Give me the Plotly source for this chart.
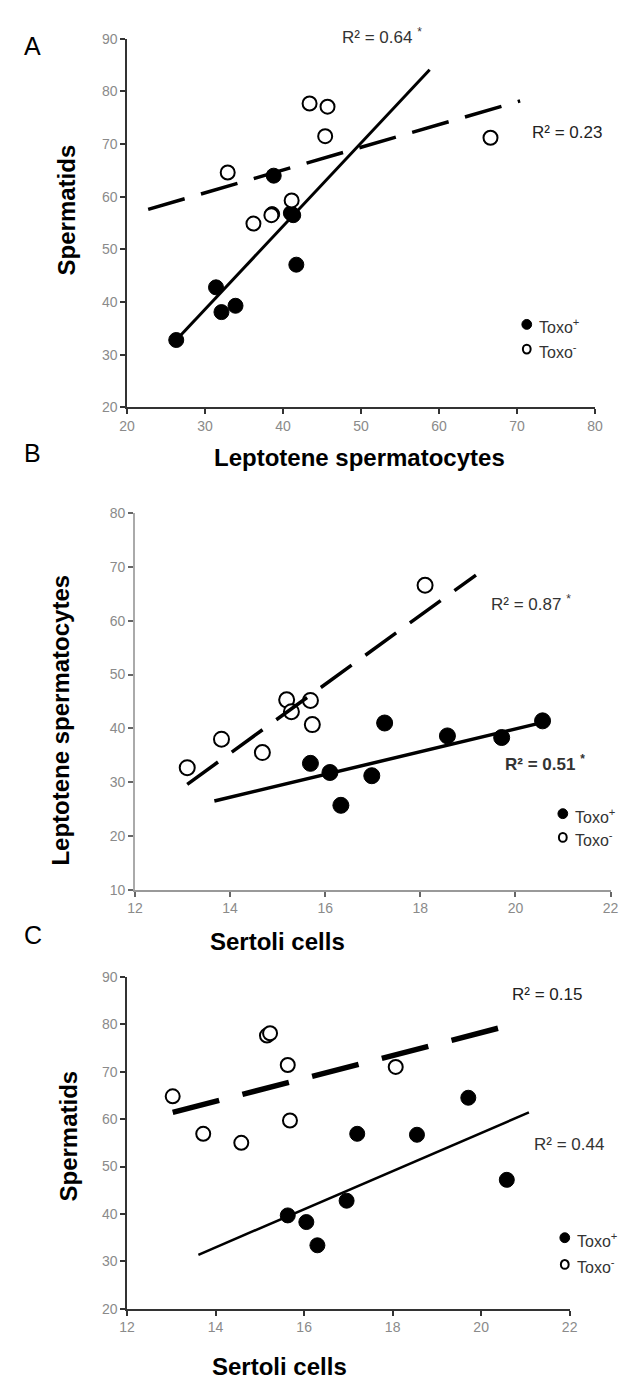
import plotly.graph_objects as go

W, H = 633, 1384

# ---------------- data ----------------
# Panel A: Leptotene spermatocytes (x) vs Spermatids (y)
a_pos_x = [26.3, 31.4, 32.1, 33.9, 38.8, 38.6, 41.0, 41.3, 41.7]
a_pos_y = [32.8, 42.8, 38.1, 39.3, 64.0, 56.7, 56.9, 56.5, 47.1]
a_neg_x = [32.9, 36.2, 38.5, 41.1, 43.4, 45.7, 45.4, 66.6]
a_neg_y = [64.6, 54.9, 56.5, 59.3, 77.7, 77.1, 71.5, 71.2]
a_fit_pos_x = [26.3, 58.8]
a_fit_pos_y = [32.8, 84.1]
a_fit_neg_x = [22.7, 70.4]
a_fit_neg_y = [57.6, 78.2]

# Panel B: Sertoli cells (x) vs Leptotene spermatocytes (y)
b_pos_x = [15.69, 16.10, 16.33, 16.98, 17.25, 18.57, 19.71, 20.57]
b_pos_y = [33.5, 31.8, 25.7, 31.2, 41.0, 38.6, 38.3, 41.4]
b_neg_x = [13.10, 13.82, 14.68, 15.19, 15.29, 15.69, 15.73, 18.10]
b_neg_y = [32.7, 38.0, 35.5, 45.3, 43.1, 45.2, 40.7, 66.6]
b_fit_pos_x = [13.67, 20.71]
b_fit_pos_y = [26.5, 41.4]
b_fit_neg_x = [13.10, 19.17]
b_fit_neg_y = [29.6, 68.5]

# Panel C: Sertoli cells (x) vs Spermatids (y)
c_pos_x = [15.63, 16.05, 16.30, 16.96, 17.20, 18.55, 19.71, 20.58]
c_pos_y = [39.7, 38.3, 33.4, 42.8, 56.9, 56.7, 64.5, 47.2]
c_neg_x = [13.03, 13.72, 14.58, 15.16, 15.23, 15.63, 15.68, 18.07]
c_neg_y = [64.8, 56.9, 55.0, 77.6, 78.1, 71.4, 59.7, 71.0]
c_fit_pos_x = [13.61, 21.08]
c_fit_pos_y = [31.4, 61.4]
c_fit_neg_x = [13.03, 20.61]
c_fit_neg_y = [61.4, 79.7]

a_xticks = [20, 30, 40, 50, 60, 70, 80]
a_yticks = [20, 30, 40, 50, 60, 70, 80, 90]
b_xticks = [12, 14, 16, 18, 20, 22]
b_yticks = [10, 20, 30, 40, 50, 60, 70, 80]
c_xticks = [12, 14, 16, 18, 20, 22]
c_yticks = [20, 30, 40, 50, 60, 70, 80, 90]

r2_labels = ["R² = 0.64 <sup>*</sup>", "R² = 0.23",
             "R² = 0.87 <sup>*</sup>", "<b>R² = 0.51 <sup>*</sup></b>",
             "R² = 0.15", "R² = 0.44"]
legend_labels = ["Toxo<sup>+</sup>", "Toxo<sup>-</sup>"]


def fx(px):
    return px / W


def fy(py):
    return 1 - py / H


FONT = "Liberation Sans, Arial, sans-serif"
fig = go.Figure()

panels = [
    ("x", "y", a_pos_x, a_pos_y, a_neg_x, a_neg_y, a_fit_pos_x, a_fit_pos_y,
     a_fit_neg_x, a_fit_neg_y, 15, "38px,17px", 3.5, 3),
    ("x2", "y2", b_pos_x, b_pos_y, b_neg_x, b_neg_y, b_fit_pos_x, b_fit_pos_y,
     b_fit_neg_x, b_fit_neg_y, 16, "38px,17px", 3.5, 3.5),
    ("x3", "y3", c_pos_x, c_pos_y, c_neg_x, c_neg_y, c_fit_pos_x, c_fit_pos_y,
     c_fit_neg_x, c_fit_neg_y, 15, "48px,24px", 5.5, 2.5),
]

for (xa, ya, px_, py_, nx_, ny_, fpx, fpy, fnx, fny, ms, dash, dw, sw) in panels:
    fig.add_trace(go.Scatter(x=px_, y=py_, xaxis=xa, yaxis=ya, mode="markers",
                             marker=dict(size=ms, color="black",
                                         line=dict(color="black", width=1)),
                             showlegend=False))
    fig.add_trace(go.Scatter(x=fpx, y=fpy, xaxis=xa, yaxis=ya, mode="lines",
                             line=dict(color="black", width=sw),
                             showlegend=False))
    fig.add_trace(go.Scatter(x=nx_, y=ny_, xaxis=xa, yaxis=ya, mode="markers",
                             marker=dict(size=ms - 1, color="white",
                                         line=dict(color="black", width=2)),
                             showlegend=False))
    fig.add_trace(go.Scatter(x=fnx, y=fny, xaxis=xa, yaxis=ya, mode="lines",
                             line=dict(color="black", width=dw, dash=dash),
                             showlegend=False))

tickfont = dict(family=FONT, size=14, color="#8a8a8a")


def axis(rng, ticks, dom, anchor, linecolor="#333", **kw):
    d = dict(range=rng, tickvals=ticks, domain=dom, anchor=anchor,
             showgrid=False, zeroline=False, showline=True,
             linecolor=linecolor, linewidth=1.5, ticks="outside",
             ticklen=5, tickcolor=linecolor, tickwidth=1.5,
             tickfont=tickfont, fixedrange=True)
    d.update(kw)
    return d


fig.update_layout(
    width=W, height=H, margin=dict(l=0, r=0, t=0, b=0),
    paper_bgcolor="white", plot_bgcolor="white", showlegend=False,
    xaxis=axis([20, 80], a_xticks, [fx(114), fx(594)], "y"),
    yaxis=axis([20, 90], a_yticks, [fy(396), fy(23)], "x"),
    xaxis2=axis([12, 22], b_xticks, [fx(122), fx(610)], "y2",
                linecolor="#999", tickcolor="#666"),
    yaxis2=axis([10, 80], b_yticks, [fy(884), fy(503)], "x2",
                linecolor="#aaa", tickcolor="#666"),
    xaxis3=axis([12, 22], c_xticks, [fx(114), fx(568)], "y3"),
    yaxis3=axis([20, 90], c_yticks, [fy(1308), fy(972)], "x3"),
)

ann = []


def text(px, py, s, size, bold=False, angle=0, color="black", xanchor="center"):
    ann.append(dict(x=fx(px), y=fy(py), xref="paper", yref="paper",
                    text=f"<b>{s}</b>" if bold else s, showarrow=False,
                    textangle=angle, xanchor=xanchor, yanchor="middle",
                    font=dict(family=FONT, size=size, color=color)))


# panel letters
text(17, 30, "A", 25)
text(17, 442, "B", 25)
text(17, 930, "C", 25)

# axis titles
text(352, 447, "Leptotene spermatocytes", 24, bold=True)
text(52, 196, "Spermatids", 24, bold=True, angle=-90)
text(268, 936, "Sertoli cells", 24, bold=True)
text(46, 712, "Leptotene spermatocytes", 24, bold=True, angle=-90)
text(270, 1366, "Sertoli cells", 24, bold=True)
text(54, 1133, "Spermatids", 24, bold=True, angle=-90)

# R² labels
text(376, 20, r2_labels[0], 17, color="#333")
text(565, 118, r2_labels[1], 17, color="#222")
text(528, 594, r2_labels[2], 17, color="#333")
text(543, 756, r2_labels[3], 17, color="#333")
text(545, 990, r2_labels[4], 17, color="#222")
text(567, 1142, r2_labels[5], 17, color="#333")

# legends
shapes = []
legend_pos = [(524, 312, 337), (561, 807, 831), (563, 1236, 1263)]
for (lx, ly1, ly2) in legend_pos:
    r = 5
    shapes.append(dict(type="circle", xref="paper", yref="paper",
                       x0=fx(lx - r), x1=fx(lx + r), y0=fy(ly1 + r), y1=fy(ly1 - r),
                       fillcolor="black", line=dict(color="black", width=1)))
    shapes.append(dict(type="circle", xref="paper", yref="paper",
                       x0=fx(lx - 4), x1=fx(lx + 4), y0=fy(ly2 + 4.5), y1=fy(ly2 - 4.5),
                       fillcolor="white", line=dict(color="black", width=2)))
    text(lx + 10, ly1 + 2, legend_labels[0], 16, color="#333", xanchor="left")
    text(lx + 10, ly2 + 2, legend_labels[1], 16, color="#333", xanchor="left")

fig.update_layout(annotations=ann, shapes=shapes)
fig.write_html("out.html")
